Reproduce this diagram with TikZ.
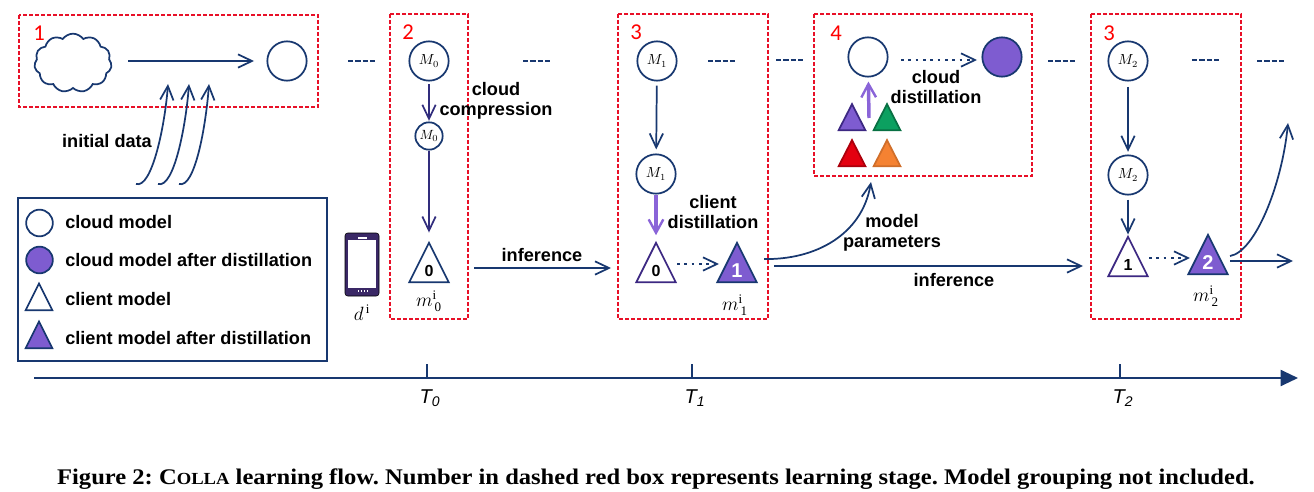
\documentclass[tikz,border=0pt]{standalone}
\usepackage{fontspec}
\setsansfont{Liberation Sans}
\setmainfont{Liberation Serif}
\newfontfamily\stagefont{Carlito}
\newfontface\captionface[FakeStretch=1.1]{Liberation Serif Bold}
\usetikzlibrary{arrows.meta,shapes.geometric,shapes.symbols}
\definecolor{navyline}{RGB}{24,56,112}
\definecolor{purplefill}{RGB}{126,92,208}
\definecolor{purplearrow}{RGB}{138,100,216}
\definecolor{purpleedge}{RGB}{60,40,130}
\definecolor{stagered}{RGB}{232,16,40}
\definecolor{greenfill}{RGB}{12,160,96}
\definecolor{redfill}{RGB}{228,0,16}
\definecolor{orangefill}{RGB}{245,130,50}
\definecolor{phonecolor}{RGB}{58,40,102}
\tikzset{
  flow/.style={draw=navyline,line width=1.3pt,-{Straight Barb[length=10.5pt,width=10pt,line width=1.3pt]}},
  dotflow/.style={flow,dash pattern=on 2pt off 3.5pt},
  lostflow/.style={flow,line width=2.6pt,draw=purplearrow,-{Straight Barb[length=10pt,width=11pt,line width=1.8pt]}},
  gapline/.style={draw=navyline,line width=1.3pt,dash pattern=on 4pt off 1.5pt},
  stagebox/.style={draw=stagered,line width=1.2pt,dash pattern=on 3pt off 1.5pt},
  stagenum/.style={text=red,font=\stagefont\fontsize{17}{17}\selectfont,inner sep=0pt},
  lbl/.style={font=\sffamily\bfseries\fontsize{13.6}{15}\selectfont,inner sep=0pt,align=center},
  cloudmodel/.style={circle,draw=navyline,line width=1.3pt,fill=white,minimum size=29.5pt,inner sep=0pt,font=\fontsize{10.5}{11}\selectfont},
  smallmodel/.style={cloudmodel,minimum size=20.5pt,font=\fontsize{10}{11}\selectfont},
  keycircle/.style={cloudmodel,minimum size=20pt},
  clientmodel/.style={isosceles triangle,isosceles triangle stretches,shape border rotate=90,anchor=lower side,draw=navyline,line width=1.3pt,fill=white,minimum width=29.5pt,minimum height=29.5pt,inner sep=0pt,font=\sffamily\bfseries\fontsize{12}{12}\selectfont},
  keytri/.style={clientmodel,minimum width=20pt,minimum height=20pt},
  minitri/.style={clientmodel,minimum width=20pt,minimum height=19.5pt},
  distilled/.style={fill=purplefill,text=white},
  tagtext/.style={inner sep=0pt,font=\fontsize{14}{14}\selectfont},
  timetext/.style={inner sep=0pt,font=\sffamily\itshape\fontsize{15}{15}\selectfont}
}
\begin{document}
\begin{tikzpicture}[x=0.75pt,y=0.75pt,yscale=-1,xscale=1]
  \useasboundingbox (0,0) rectangle (1314,492);
  %Dashed stage boxes
  \draw [stagebox] (19,15) rectangle (318,107);
  \draw [stagebox] (390,14) rectangle (468,319);
  \draw [stagebox] (618,14) rectangle (768,319);
  \draw [stagebox] (814,14) rectangle (1032,176);
  \draw [stagebox] (1091,14) rectangle (1241,319);
  % Stage numbers
  \node (stagea) [stagenum] at (39,33) {1};
  \node (stageb) [stagenum] at (408,32) {2};
  \node (stagec) [stagenum] at (636,32) {3};
  \node (staged) [stagenum] at (836,33) {4};
  \node (stagee) [stagenum] at (1109,33) {3};

  %Stage 1: cloud and first model
  \node (datacloud) [cloud,cloud puffs=11,cloud puff arc=110,aspect=1.3,draw=navyline,line width=1.3pt,minimum width=58pt,minimum height=44pt,inner sep=0pt] at (73,63) {};
  \node (firstmodel) [cloudmodel] at (287,61) {};
  \coordinate (firsttip) at (254,61);
  \draw [flow,shorten <=12pt] (datacloud.east |- firsttip) -- (firsttip) ;
  \coordinate (dataa) at (136,184);
  \coordinate (datab) at (158,184);
  \coordinate (datac) at (179,184);
  \coordinate (dataatip) at (168,84);
  \coordinate (databtip) at (189,84);
  \coordinate (datactip) at (209,84);
  \draw [flow] (dataa) .. controls (152,189) and (165,125) .. (dataatip) ;
  \draw [flow] (datab) .. controls (174,189) and (186,125) .. (databtip) ;
  \draw [flow] (datac) .. controls (195,189) and (206,125) .. (datactip) ;
  \node (initlbl) [lbl] at (107,141) {initial data};

  %Stage 2: compression
  \node (mzero) [cloudmodel] at (429,61) {$M_{0}$};
  \node (mzerosmall) [smallmodel] at (429,136) {$M_{0}$};
  \node (clientzero) [clientmodel] at (429,283) {0};
  \draw [flow,draw=purpleedge!70!navyline,shorten <=2pt,shorten >=0.5pt] (mzero) -- (mzerosmall) ;
  \draw [flow,draw=purpleedge!70!navyline,shorten >=6pt] (mzerosmall) -- (clientzero.apex) ;
  \node (compresslbl) [lbl] at (496,100.5) {cloud\\compression};
  \node (mtagzero) [tagtext] at (429,301) {$m^{\mathrm{i}}_{\,\mathrm{0}}$};

  %Phone
  \draw [fill=phonecolor,rounded corners=2pt] (345,233) rectangle (379,296);
  \node (phone) [fill=white,minimum width=21.5pt,minimum height=36pt,inner sep=0pt] at (362,264) {};
  \draw [white,line width=1pt] (358,238) -- (367,238);
  \draw [white,line width=1pt,dash pattern=on 1pt off 1.2pt] (358,291) -- (367,291);
  \node (dtag) [tagtext] at (362,313) {$d^{\,\mathrm{i}}$};

  %Stage 3, first round
  \node (mone) [cloudmodel] at (657,61) {$M_{1}$};
  \node (monecopy) [cloudmodel] at (656,174) {$M_{1}$};
  \node (clientzerob) [clientmodel,draw=purpleedge] at (656,283) {0};
  \node (clientone) [clientmodel,distilled,font=\sffamily\bfseries\fontsize{15}{15}\selectfont] at (737,283) {1};
  \draw [flow,shorten <=3pt,shorten >=3pt] (mone) -- (monecopy) ;
  \draw [lostflow,shorten >=4pt] (monecopy) -- (clientzerob.apex) ;
  \coordinate (dotastart) at (677,264);
  \coordinate (dotaend) at (719,264);
  \draw [dotflow] (dotastart) -- (dotaend) ;
  \node (clientlbl) [lbl] at (713,212) {client\\distillation};
  \node (mtagone) [tagtext] at (735,305) {$m^{\mathrm{i}}_{\,\mathrm{1}}$};
  %Inference into stage 3
  \coordinate (infastart) at (474,268);
  \coordinate (infaend) at (611,268);
  \draw [flow] (infastart) -- (infaend) ;
  \node (infalbl) [lbl] at (542,255) {inference};

  %Stage 4
  \node (cloudmid) [cloudmodel] at (868,57) {};
  \node (cloudafter) [cloudmodel,distilled] at (1002,57) {};
  \coordinate (dotbstart) at (901,60);
  \coordinate (dotbend) at (977,60);
  \draw [dotflow] (dotbstart) -- (dotbend) ;
  \node (cloudlbl) [lbl] at (936,87) {cloud\\distillation};
  \node (tripurple) [minitri,distilled,draw=purpleedge] at (852,131) {};
  \node (trigreen) [minitri,fill=greenfill,draw=greenfill!70!black] at (887,131) {};
  \node (trired) [minitri,fill=redfill,draw=redfill!75!black] at (852,167) {};
  \node (triorange) [minitri,fill=orangefill,draw=orangefill!85!black] at (887,167) {};
  \coordinate (upstart) at (869,118);
  \draw [lostflow,shorten >=3pt] (upstart) -- (cloudmid) ;

  %Model parameters
  \coordinate (parastart) at (764,259);
  \coordinate (paraend) at (871,182);
  \draw [flow] (parastart) .. controls (815,260) and (862,235) .. (paraend) ;
  \node (paralbl) [lbl] at (892,232.5) {model\\parameters};
  \coordinate (infbstart) at (774,266);
  \coordinate (infbend) at (1083,266);
  \draw [flow] (infbstart) -- (infbend) ;
  \node (infblbl) [lbl] at (954,280) {inference};

  %Stage 3, second round
  \node (mtwo) [cloudmodel] at (1128,61) {$M_{2}$};
  \node (mtwocopy) [cloudmodel] at (1128,175) {$M_{2}$};
  \node (clientoneb) [clientmodel,draw=purpleedge] at (1128,277) {1};
  \node (clienttwo) [clientmodel,distilled,font=\sffamily\bfseries\fontsize{15}{15}\selectfont] at (1208,275) {2};
  \draw [flow,shorten <=4pt,shorten >=2pt] (mtwo) -- (mtwocopy) ;
  \draw [flow,shorten <=3pt] (mtwocopy) -- (clientoneb.apex) ;
  \coordinate (dotcstart) at (1149,258);
  \coordinate (dotcend) at (1190,258);
  \draw [dotflow] (dotcstart) -- (dotcend) ;
  \node (mtagtwo) [tagtext] at (1206,296) {$m^{\mathrm{i}}_{\,\mathrm{2}}$};
  \coordinate (nextstart) at (1230,261);
  \coordinate (nextend) at (1293,261);
  \draw [flow] (nextstart) -- (nextend) ;
  \coordinate (paratwostart) at (1230,256);
  \coordinate (paratwoend) at (1288,123);
  \draw [flow] (paratwostart) .. controls (1255,252) and (1282,185) .. (paratwoend) ;

  %Dashes between stages
  \coordinate (gapa) at (348,61);   \coordinate (gapaend) at (375,61);
  \coordinate (gapb) at (523,61);   \coordinate (gapbend) at (551,61);
  \coordinate (gapc) at (708,61);   \coordinate (gapcend) at (735,61);
  \coordinate (gapd) at (776,60);   \coordinate (gapdend) at (803,60);
  \coordinate (gape) at (1048,61);  \coordinate (gapeend) at (1075,61);
  \coordinate (gapf) at (1192,60);  \coordinate (gapfend) at (1219,60);
  \coordinate (gapg) at (1257,61);  \coordinate (gapgend) at (1284,61);
  \draw [gapline] (gapa) -- (gapaend) ;
  \draw [gapline] (gapb) -- (gapbend) ;
  \draw [gapline] (gapc) -- (gapcend) ;
  \draw [gapline] (gapd) -- (gapdend) ;
  \draw [gapline] (gape) -- (gapeend) ;
  \draw [gapline] (gapf) -- (gapfend) ;
  \draw [gapline] (gapg) -- (gapgend) ;

  %Legend
  \draw [draw=navyline,line width=1.3pt] (18,198) rectangle (327,361);
  \node (keya) [keycircle] at (39.5,223) {};
  \node (keyb) [keycircle,distilled] at (39.5,260) {};
  \node (keyc) [keytri] at (39,311) {};
  \node (keyd) [keytri,distilled] at (39,349) {};
  \node (keyalbl) [lbl,anchor=west] at (65,222) {cloud model};
  \node (keyblbl) [lbl,anchor=west] at (65,260) {cloud model after distillation};
  \node (keyclbl) [lbl,anchor=west] at (65,299) {client model};
  \node (keydlbl) [lbl,anchor=west] at (65,338) {client model after distillation};

  %Time axis
  \coordinate (axisstart) at (34,378);
  \coordinate (axisend) at (1298,378);
  \draw [draw=navyline,line width=1.5pt,-{Triangle[length=13pt,width=12pt]}] (axisstart) -- (axisend) ;
  \coordinate (tickzero) at (427,378);
  \coordinate (tickone) at (692,378);
  \coordinate (ticktwo) at (1120,378);
  \draw [draw=navyline,line width=1pt] (tickzero) -- ++(0,-14) ;
  \draw [draw=navyline,line width=1pt] (tickone) -- ++(0,-14) ;
  \draw [draw=navyline,line width=1pt] (ticktwo) -- ++(0,-14) ;
  \node (timezero) [timetext] at (430,398) {T\textsubscript{0}};
  \node (timeone) [timetext] at (695,398) {T\textsubscript{1}};
  \node (timetwo) [timetext] at (1123,398) {T\textsubscript{2}};

  % Text Node
  \node (captionlbl) [inner sep=0pt,font=\captionface\fontsize{16.75}{18}\selectfont] at (656,479) {\frenchspacing Figure 2: C{\fontsize{12.7}{13}\selectfont OLLA} learning flow. Number in dashed red box represents learning stage. Model grouping not included.};
\end{tikzpicture}
\end{document}
